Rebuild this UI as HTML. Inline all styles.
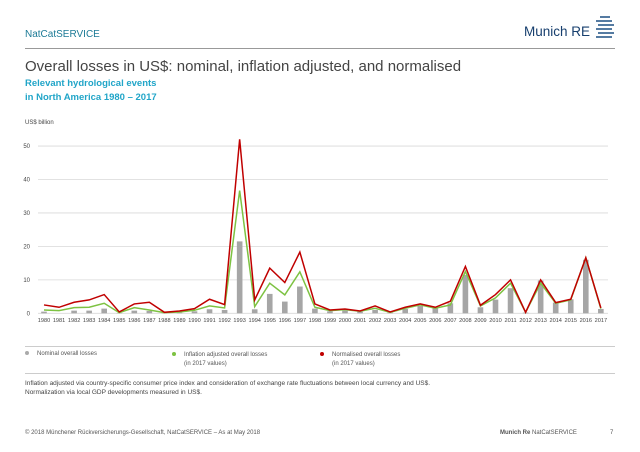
<!DOCTYPE html>
<html><head><meta charset="utf-8"><style>
body{margin:0;width:640px;height:452px;background:#fff;font-family:"Liberation Sans",sans-serif;position:relative;overflow:hidden}
.a{position:absolute;white-space:nowrap}
</style></head><body>
<div class="a" style="left:25px;top:29px;font-size:10px;color:#1c7a96">NatCatSERVICE</div>
<div class="a" style="left:524px;top:24px;font-size:13.5px;color:#173f6e">Munich RE</div>
<svg class="a" style="left:594px;top:15px" width="20" height="26">
<g stroke="#2a5a8a" stroke-width="1.6"><line x1="6" y1="2" x2="16" y2="2"/><line x1="2" y1="6" x2="18" y2="6"/><line x1="4" y1="10" x2="20" y2="10"/><line x1="2" y1="14" x2="18" y2="14"/><line x1="4" y1="18" x2="20" y2="18"/><line x1="2" y1="22" x2="18" y2="22"/></g></svg>
<div class="a" style="left:25px;top:48px;width:590px;height:1px;background:#999"></div>
<div class="a" style="left:25px;top:58px;font-size:15px;color:#444">Overall losses in US$: nominal, inflation adjusted, and normalised</div>
<div class="a" style="left:25px;top:77px;font-size:9.5px;color:#21a5c8;font-weight:bold;line-height:14px">Relevant hydrological events<br>in North America 1980 – 2017</div>
<div class="a" style="left:25px;top:120px;font-size:6px;color:#444">US$ billion</div>
<svg class="a" id="chart" style="left:0;top:0" width="640" height="340"></svg>
<div class="a" style="left:25px;top:346px;width:590px;height:1px;background:#ccc"></div>
<div class="a" style="left:25px;top:351px;font-size:6px;color:#555"><span style="display:inline-block;width:4px;height:4px;border-radius:2px;background:#aaa;margin-right:8px"></span>Nominal overall losses</div>
<div class="a" style="left:172px;top:351px;font-size:6px;color:#555;line-height:8.5px"><span style="display:inline-block;width:4px;height:4px;border-radius:2px;background:#7dc242;margin-right:8px"></span>Inflation adjusted overall losses<br><span style="margin-left:12px">(in 2017 values)</span></div>
<div class="a" style="left:320px;top:351px;font-size:6px;color:#555;line-height:8.5px"><span style="display:inline-block;width:4px;height:4px;border-radius:2px;background:#c00000;margin-right:8px"></span>Normalised overall losses<br><span style="margin-left:12px">(in 2017 values)</span></div>
<div class="a" style="left:25px;top:373px;width:590px;height:1px;background:#ccc"></div>
<div class="a" style="left:25px;top:379px;font-size:6.5px;color:#444;line-height:9px">Inflation adjusted via country-specific consumer price index and consideration of exchange rate fluctuations between local currency and US$.<br>Normalization via local GDP developments measured in US$.</div>
<div class="a" style="left:25px;top:430px;font-size:6px;color:#555">© 2018 Münchener Rückversicherungs-Gesellschaft, NatCatSERVICE – As at May 2018</div>
<div class="a" style="left:500px;top:430px;font-size:6px;color:#555"><b>Munich Re</b> NatCatSERVICE</div>
<div class="a" style="left:610px;top:430px;font-size:6px;color:#555">7</div>
<script>
const years=[];for(let y=1980;y<=2017;y++)years.push(y);
const nominal=[0.5,0,0.8,0.8,1.4,0.1,0.8,0.7,0.1,0.2,0.6,1.2,1.0,21.5,1.2,5.8,3.5,8.0,1.4,0.6,0.8,0.5,1.0,0.2,1.3,2.2,1.5,3.0,11.5,1.8,4.1,7.5,0.2,9.8,3.2,4.2,16.0,1.3];
const inflation=[1.0,0.8,1.7,1.8,3.0,0.2,1.7,1.0,0.2,0.4,0.9,2.2,1.6,36.7,2.0,9.0,5.5,12.4,1.8,0.8,1.1,0.6,1.5,0.3,1.5,2.5,1.5,2.5,12.5,2.2,4.6,9.0,0.3,9.0,3.0,4.0,16.6,1.4];
const normalised=[2.5,1.8,3.3,4.0,5.6,0.4,2.8,3.3,0.3,0.7,1.4,4.2,2.6,52,4.0,13.5,9.2,18.3,2.8,1.0,1.3,0.7,2.2,0.4,1.8,2.8,1.8,3.6,14.0,2.4,5.6,10.0,0.3,10.0,3.2,4.2,16.6,1.6];
const yTicks=[0,10,20,30,40,50];
const NS="http://www.w3.org/2000/svg",svg=document.getElementById('chart');
const x=i=>44+i*15.05, y=v=>313.3-v*3.345;
function mk(t,a){const e=document.createElementNS(NS,t);for(const k in a)e.setAttribute(k,a[k]);svg.appendChild(e);return e;}
yTicks.forEach(t=>{
const l=mk('line',{x1:38,x2:608,y1:y(t),y2:y(t),stroke:'#d8d8d8','stroke-width':0.8});


const tx=mk('text',{x:30,y:y(t)+2,'font-size':6,fill:'#444','text-anchor':'end','font-family':'Liberation Sans'});tx.textContent=t;


});
years.forEach((yr,i)=>{
const r=mk('rect',{x:x(i)-2.8,y:y(nominal[i]),width:5.6,height:y(0)-y(nominal[i]),fill:'#a6a6a6'});


const tx=mk('text',{x:x(i),y:322,'font-size':5.6,fill:'#444','text-anchor':'middle','font-family':'Liberation Sans'});tx.textContent=yr;


});
const g=mk('polyline',{points:inflation.map((v,i)=>x(i)+','+y(v)).join(' '),fill:'none',stroke:'#7dc242','stroke-width':1.5});


const rl=mk('polyline',{points:normalised.map((v,i)=>x(i)+','+y(v)).join(' '),fill:'none',stroke:'#c00000','stroke-width':1.5});


</script>
</body></html>
